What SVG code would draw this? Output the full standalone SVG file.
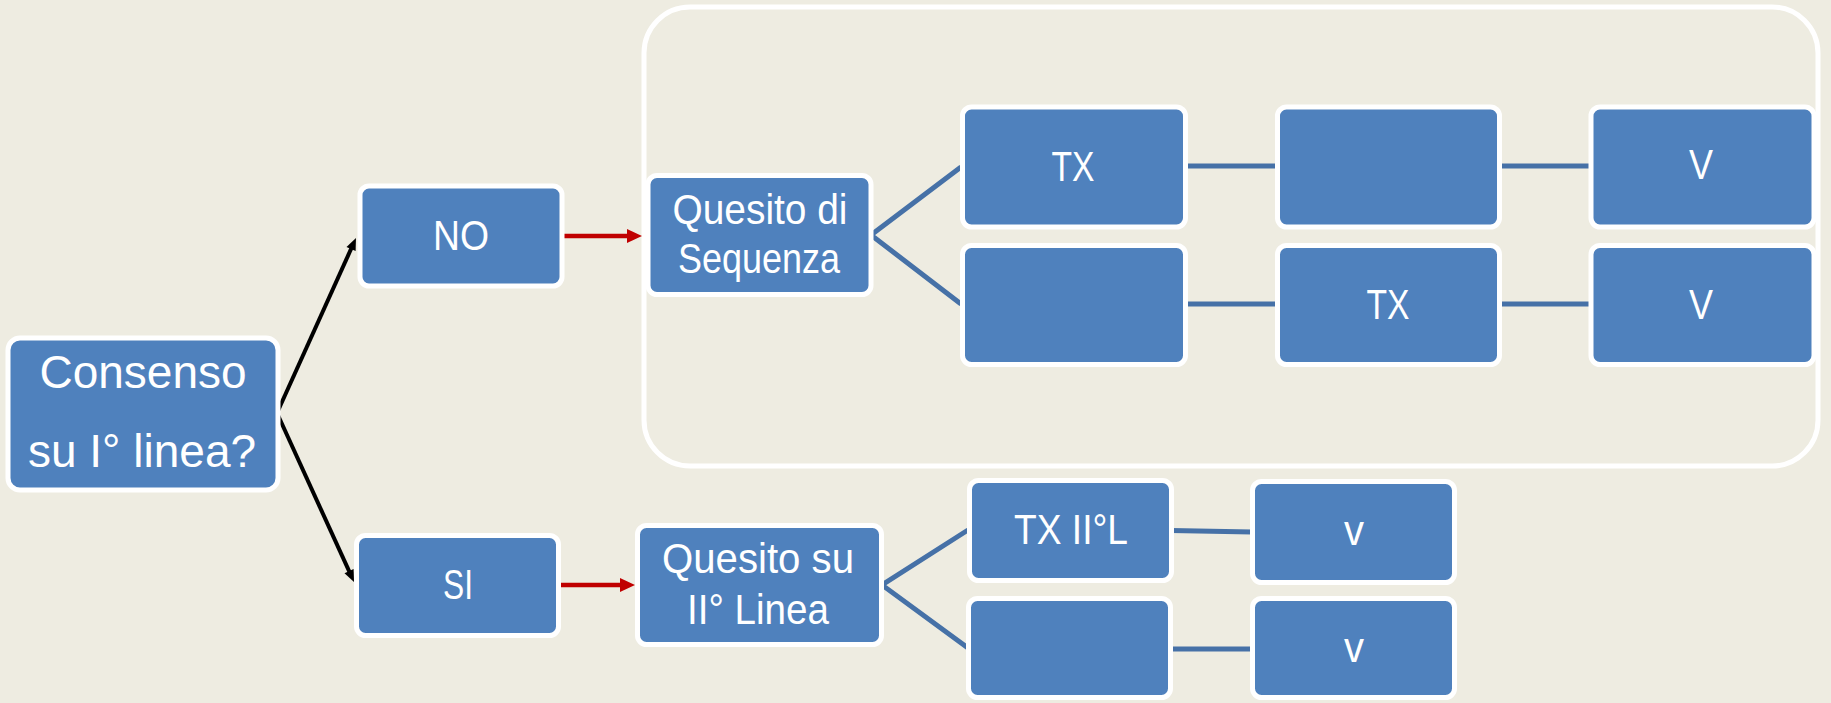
<svg xmlns="http://www.w3.org/2000/svg" width="1831" height="703" viewBox="0 0 1831 703">
  <style>
    .box { fill: #4f81bd; stroke: #ffffff; stroke-width: 5; }
    .frame { fill: none; stroke: #ffffff; stroke-width: 5; }
    .lbl { fill: #ffffff; font-family: "Liberation Sans", Arial, sans-serif; font-size: 42px; text-anchor: middle; }
    .big { font-size: 46px; }
    .link { fill: none; stroke: #4671a7; stroke-width: 5; }
    .blk { fill: none; stroke: #000000; stroke-width: 4; }
    .red { fill: none; stroke: #c00000; stroke-width: 4.5; }
  </style>
  <defs>
    <marker id="headBlack" markerUnits="userSpaceOnUse" markerWidth="14" markerHeight="12" refX="4" refY="5" orient="auto" overflow="visible">
      <path d="M0,0 L12,5 L0,10 z" fill="#000000"/>
    </marker>
    <marker id="headRed" markerUnits="userSpaceOnUse" markerWidth="16" markerHeight="16" refX="1" refY="7" orient="auto" overflow="visible">
      <path d="M0,0 L15,7 L0,14 z" fill="#c00000"/>
    </marker>
  </defs>

  <rect width="1831" height="703" fill="#eeece1"/>

  <!-- frame around the sequence question branch -->
  <rect id="sequence-frame" class="frame" x="644" y="7" width="1174" height="459" rx="46" ry="46"/>

  <g id="connectors">
    <line class="blk" x1="277" y1="413" x2="352.7" y2="245.3" marker-end="url(#headBlack)"/>
    <line class="blk" x1="277" y1="413" x2="350.7" y2="574.7" marker-end="url(#headBlack)"/>
    <line class="red" x1="562" y1="236" x2="628" y2="236" marker-end="url(#headRed)"/>
    <line class="red" x1="559" y1="585" x2="621" y2="585" marker-end="url(#headRed)"/>
    <polyline class="link" points="961,167 871,235 961,304"/>
    <line class="link" x1="1186" y1="166" x2="1276" y2="166"/>
    <line class="link" x1="1499" y1="166" x2="1590" y2="166"/>
    <line class="link" x1="1186" y1="304" x2="1276" y2="304"/>
    <line class="link" x1="1499" y1="304" x2="1590" y2="304"/>
    <polyline class="link" points="968,530 882,585 968,648"/>
    <line class="link" x1="1171" y1="530.5" x2="1252" y2="532"/>
    <line class="link" x1="1170" y1="649" x2="1252" y2="649"/>
  </g>

  <g id="consenso">
    <rect class="box" x="8" y="338" width="270" height="152" rx="12"/>
    <text class="lbl big" x="143" y="388">Consenso</text>
    <text class="lbl big" x="142" y="467">su I° linea?</text>
  </g>

  <g id="no">
    <rect class="box" x="360" y="186" width="202" height="100" rx="9"/>
    <text class="lbl" x="461" y="250" textLength="56" lengthAdjust="spacingAndGlyphs">NO</text>
  </g>

  <g id="si">
    <rect class="box" x="356.5" y="535.5" width="202" height="100" rx="9"/>
    <text class="lbl" x="458" y="599" textLength="30" lengthAdjust="spacingAndGlyphs">SI</text>
  </g>

  <g id="quesito-sequenza">
    <rect class="box" x="648" y="175.5" width="223" height="119" rx="9"/>
    <text class="lbl" x="760" y="224" textLength="175" lengthAdjust="spacingAndGlyphs">Quesito di</text>
    <text class="lbl" x="759" y="273" textLength="162" lengthAdjust="spacingAndGlyphs">Sequenza</text>
  </g>

  <g id="seq-a-tx">
    <rect class="box" x="962.5" y="107" width="223" height="120" rx="9"/>
    <text class="lbl" x="1073" y="181" textLength="43" lengthAdjust="spacingAndGlyphs">TX</text>
  </g>
  <g id="seq-a-mid">
    <rect class="box" x="1277.5" y="107" width="222" height="120" rx="9"/>
  </g>
  <g id="seq-a-v">
    <rect class="box" x="1591" y="107" width="223" height="120" rx="9"/>
    <text class="lbl" x="1701" y="179" textLength="24" lengthAdjust="spacingAndGlyphs">V</text>
  </g>

  <g id="seq-b-first">
    <rect class="box" x="962.5" y="245.5" width="223" height="119" rx="9"/>
  </g>
  <g id="seq-b-tx">
    <rect class="box" x="1277.5" y="245.5" width="222" height="119" rx="9"/>
    <text class="lbl" x="1388" y="319" textLength="43" lengthAdjust="spacingAndGlyphs">TX</text>
  </g>
  <g id="seq-b-v">
    <rect class="box" x="1591" y="245.5" width="223" height="119" rx="9"/>
    <text class="lbl" x="1701" y="319" textLength="24" lengthAdjust="spacingAndGlyphs">V</text>
  </g>

  <g id="quesito-seconda-linea">
    <rect class="box" x="637.5" y="525.5" width="244" height="119" rx="9"/>
    <text class="lbl" x="758" y="573" textLength="192" lengthAdjust="spacingAndGlyphs">Quesito su</text>
    <text class="lbl" x="758" y="624" textLength="142" lengthAdjust="spacingAndGlyphs">II° Linea</text>
  </g>

  <g id="tx-seconda-linea">
    <rect class="box" x="969.5" y="480.5" width="202" height="100" rx="9"/>
    <text class="lbl" x="1071" y="544" textLength="114" lengthAdjust="spacingAndGlyphs">TX II°L</text>
  </g>
  <g id="v-top">
    <rect class="box" x="1252.5" y="481.5" width="202" height="101" rx="9"/>
    <text class="lbl" x="1354" y="545" textLength="20" lengthAdjust="spacingAndGlyphs">v</text>
  </g>
  <g id="alt-seconda-linea">
    <rect class="box" x="968.5" y="598.5" width="202" height="99" rx="9"/>
  </g>
  <g id="v-bottom">
    <rect class="box" x="1252.5" y="598.5" width="202" height="99" rx="9"/>
    <text class="lbl" x="1354" y="662" textLength="20" lengthAdjust="spacingAndGlyphs">v</text>
  </g>
</svg>
